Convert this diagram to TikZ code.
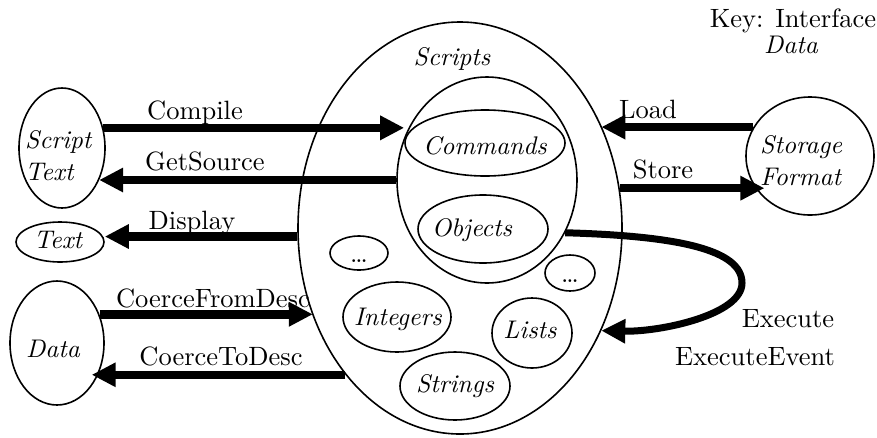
\documentclass[tikz,border=0pt]{standalone}
\usepackage{fontspec}
\setmainfont{lmroman10-regular.otf}[ItalicFont=lmroman10-italic.otf]
\usetikzlibrary{shapes.geometric,arrows.meta}
\begin{document}
\begin{tikzpicture}[x=1pt,y=-1pt,
  ell/.style={draw,ellipse,line width=1.6pt,inner sep=0pt},
  arr/.style={line width=8.5pt,-{Triangle[length=24pt,width=23pt]}},
  lab/.style={anchor=base,inner sep=0pt,font=\fontsize{26.5}{30}\selectfont},
  ilab/.style={anchor=base,inner sep=0pt,font=\fontsize{25.5}{30}\selectfont\itshape}]
\useasboundingbox (0,0) rectangle (877,437);
% ellipses
\node[ell,minimum width=324pt,minimum height=412pt] (big) at (460,228) {};
\node[ell,minimum width=180pt,minimum height=206pt] (core) at (487,180) {};
\node[ell,minimum width=160pt,minimum height=66pt] (cmd) at (485,143) {};
\node[ell,minimum width=130pt,minimum height=68pt] (obj) at (483,229) {};
\node[ell,minimum width=58pt,minimum height=34pt] (dotsa) at (359,253) {};
\node[ell,minimum width=50pt,minimum height=36pt] (dotsb) at (570,273) {};
\node[ell,minimum width=108pt,minimum height=70pt] (int) at (397,317) {};
\node[ell,minimum width=80pt,minimum height=70pt] (lst) at (532,333) {};
\node[ell,minimum width=110pt,minimum height=68pt] (str) at (455,386) {};
\node[ell,minimum width=86pt,minimum height=120pt] (st) at (62,148) {};
\node[ell,minimum width=88pt,minimum height=40pt] (txt) at (60,242) {};
\node[ell,minimum width=94pt,minimum height=124pt] (dat) at (57,343) {};
\node[ell,minimum width=128pt,minimum height=118pt] (sf) at (810,156) {};
% texts in ellipses
\node[ilab] (tscripts) at (452,65) {Scripts};
\node[ilab] (tcmd) at (485,154) {Commands};
\node[ilab] (tobj) at (472,236) {Objects};
\node[lab] (tdotsa) at (359,262) {\dots};
\node[lab] (tdotsb) at (570,282) {\dots};
\node[ilab] (tint) at (398,325) {Integers};
\node[ilab] (tlst) at (530,338) {Lists};
\node[ilab] (tstr) at (455,392) {Strings};
\node[ilab,anchor=base west] (tst1) at (25,148) {Script};
\node[ilab,anchor=base west] (tst2) at (25,180) {Text};
\node[ilab] (ttxt) at (58,248) {Text};
\node[ilab] (tdat) at (53,357) {Data};
\node[ilab,anchor=base west] (tsf1) at (760,153) {Storage};
\node[ilab,anchor=base west] (tsf2) at (760,185) {Format};
% key
\node[lab] (key) at (793,27) {Key: Interface};
\node[ilab] (keyd) at (791,53) {Data};
% arrows
\draw[arr] (st.26) -- (st.26 -| cmd.west);
\draw[arr] (core.west) -- (core.west -| st.-41);
\draw[arr] (big.183) -- (big.183 -| txt.east);
\draw[arr] (sf.153) -- (sf.153 -| big.36);
\draw[arr,shorten >=-10pt] (big.14) -- (big.14 -| sf.209);
\draw[arr] (dat.34) -- (dat.34 -| big.211);
\draw[arr,shorten >=-6pt] (big.232) -- (big.232 -| dat.-39);
\coordinate (ex) at (742,283);
\draw[arr,line width=7pt] (core.-34) .. controls (680,236) and (742,250) .. (ex) .. controls (742,315) and (660,332) .. (big.-36);
% arrow labels
\node[lab] (lcompile) at (195,119) {Compile};
\node[lab] (lget) at (205,170) {GetSource};
\node[lab] (ldisp) at (192,229) {Display};
\node[lab] (lload) at (648,118) {Load};
\node[lab] (lstore) at (663,178) {Store};
\node[lab] (lfrom) at (213,307) {CoerceFromDesc};
\node[lab] (lto) at (221,365) {CoerceToDesc};
\node[lab] (lexec) at (788,327) {Execute};
\node[lab] (lexece) at (755,365) {ExecuteEvent};
\end{tikzpicture}
\end{document}
